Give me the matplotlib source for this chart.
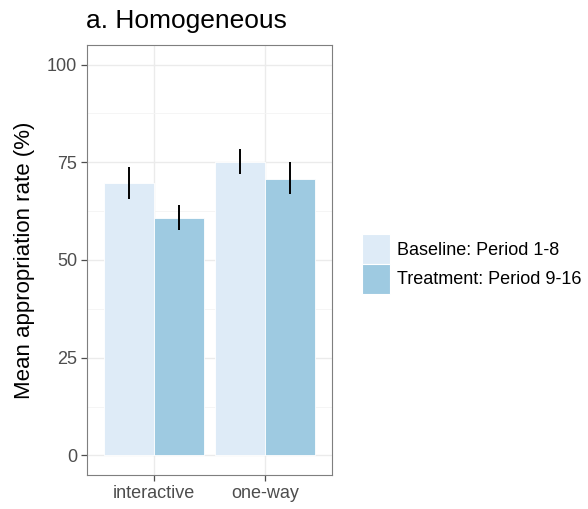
import matplotlib
matplotlib.use('Agg')
import matplotlib.pyplot as plt
from matplotlib.patches import Patch
import numpy as np

plt.rcParams['font.family'] = ['Liberation Sans', 'DejaVu Sans']

# data
categories = ['interactive', 'one-way']
groups = ['Baseline: Period 1-8', 'Treatment: Period 9-16']
baseline = [69.8, 75.1]
treatment = [60.8, 70.8]
baseline_lo = [65.7, 71.9]
baseline_hi = [73.7, 78.3]
treatment_lo = [57.6, 67.0]
treatment_hi = [64.0, 75.0]
yticks = [0, 25, 50, 75, 100]

colors = ['#DEEBF7', '#9ECAE1']

fig = plt.figure(figsize=(5.88, 5.09), dpi=100)
ax = fig.add_axes([87/588, 1 - 475/509, (332-87)/588, (475-45)/509])

x = np.arange(1, len(categories) + 1)
w = 0.45
series = [(baseline, baseline_lo, baseline_hi), (treatment, treatment_lo, treatment_hi)]
for i, (vals, lo, hi) in enumerate(series):
    pos = x + (i - 0.5) * w
    ax.bar(pos, vals, width=w, color=colors[i], edgecolor='white', linewidth=0.6, zorder=2)
    ax.vlines(pos, lo, hi, color='black', linewidth=1.4, zorder=3)

ax.set_xlim(0.4, 2.6)
ax.set_ylim(-5, 105)
ax.set_yticks(yticks)
ax.set_yticks([12.5, 37.5, 62.5, 87.5], minor=True)
ax.set_xticks(x)
ax.set_xticklabels(categories)
ax.grid(True, which='major', color='#EBEBEB', linewidth=1.0, zorder=0)
ax.grid(True, which='minor', axis='y', color='#F4F4F4', linewidth=0.6, zorder=0)
ax.set_axisbelow(True)
ax.tick_params(axis='both', which='major', colors='#4D4D4D', labelsize=13, length=4, width=0.9, pad=3)
ax.tick_params(axis='both', which='minor', length=0)
for t in ax.get_xticklabels() + ax.get_yticklabels():
    t.set_color('#4D4D4D')
for s in ax.spines.values():
    s.set_color('#7F7F7F')
    s.set_linewidth(0.8)

ax.set_ylabel('Mean appropriation rate (%)', fontsize=16, color='black', labelpad=9)
fig.text(86/588, 1 - 28/509, 'a. Homogeneous', fontsize=19, color='black', ha='left', va='baseline')

handles = [Patch(facecolor=c, edgecolor='white', linewidth=0.8, label=g) for c, g in zip(colors, groups)]
leg = fig.legend(handles=handles, loc='center left', bbox_to_anchor=(362/588, 1 - 264/509),
                 frameon=False, fontsize=13, handlelength=1.55, handleheight=2.15,
                 handletextpad=0.4, labelspacing=0.0, borderaxespad=0, borderpad=0)

fig.savefig('out.png', dpi=100)
